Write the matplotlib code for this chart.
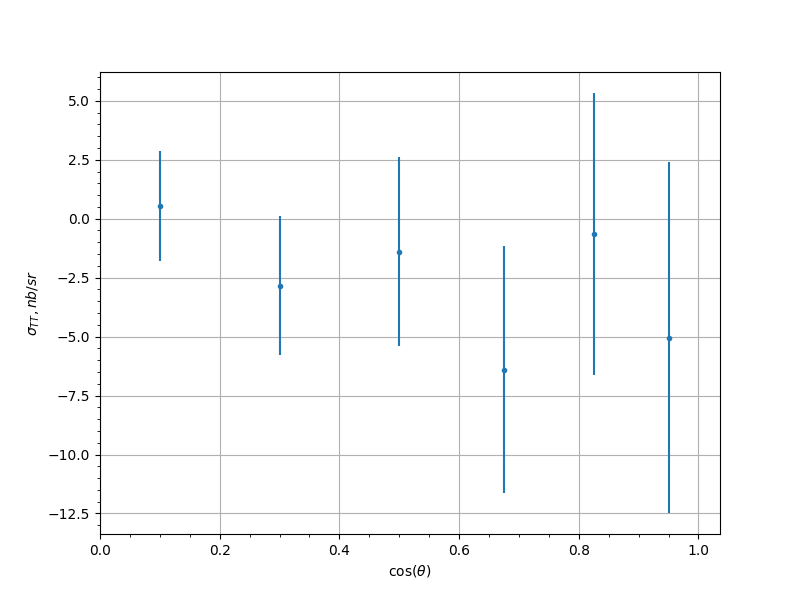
import matplotlib
matplotlib.use("Agg")
import matplotlib.pyplot as plt

cos_theta = [0.1, 0.3, 0.5, 0.675, 0.826, 0.95]
sigma_tt = [0.55, -2.84, -1.40, -6.40, -0.64, -5.04]
sigma_err = [2.33, 2.95, 4.00, 5.23, 5.97, 7.44]

fig, ax = plt.subplots(figsize=(8, 6), dpi=100)
ax.errorbar(cos_theta, sigma_tt, yerr=sigma_err, fmt='o', markersize=3, color='#1f77b4')
ax.set_xlim(0, 1.036)
ax.grid(True, which='major')
ax.minorticks_on()
ax.set_xlabel(r'$\cos(\theta)$')
ax.set_ylabel(r'$\sigma_{TT}, nb/sr$')
fig.savefig('out.png')
